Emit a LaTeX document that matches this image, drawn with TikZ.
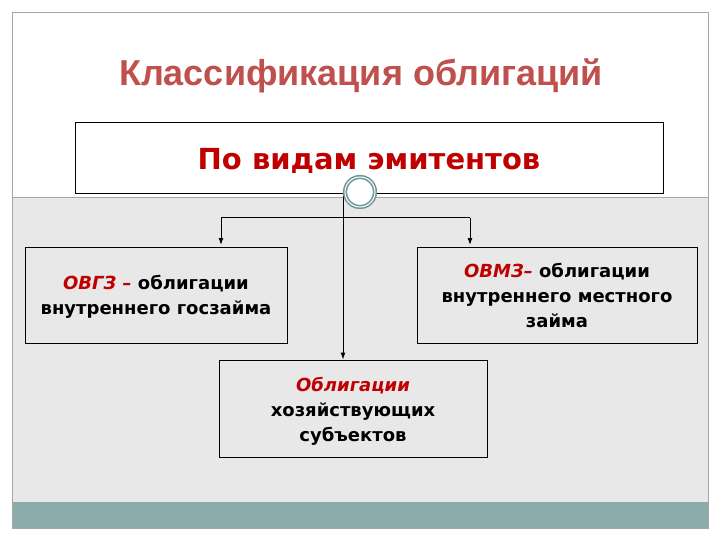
\documentclass[tikz,border=0pt]{standalone}
\usepackage{fontspec}
\setmainfont{DejaVu Sans}
\newfontfamily\titlefont{Liberation Sans}
\usetikzlibrary{arrows.meta}
\definecolor{titlered}{HTML}{C0504D}
\definecolor{darkred}{HTML}{C00000}
\definecolor{panelgray}{HTML}{E8E8E8}
\definecolor{bandteal}{HTML}{8CABAB}
\definecolor{ringteal}{HTML}{6E9A9A}
\tikzset{
  box/.style={draw=black, line width=0.8pt, fill=panelgray, align=center, inner sep=0pt},
  boxtext/.style={font=\fontsize{18}{25}\selectfont\bfseries, align=center},
  conn/.style={draw=black, line width=1pt},
  arr/.style={conn, -{Latex[length=7pt,width=5pt]}}
}
\newcommand{\rd}[1]{{\color{darkred}\itshape #1}}
\begin{document}
\begin{tikzpicture}[x=1pt,y=-1pt]
\useasboundingbox (0,0) rectangle (720,540);
\fill[white] (0,0) rectangle (720,540);
% slide frame
\fill[panelgray] (12,197) rectangle (708,502);
\fill[bandteal] (12,502) rectangle (708,528);
\draw[gray!70, line width=0.6pt] (12,12) rectangle (708,528);
\draw[gray!70, line width=0.6pt] (12,197) -- (708,197);
% title
\node[font=\titlefont\fontsize{36}{40}\selectfont\bfseries, text=titlered] (title) at (361,76) {Классификация облигаций};
% top box
\node[draw=black, line width=0.8pt, fill=white, minimum width=588pt, minimum height=71pt, inner sep=0pt] (top) at (369,157.5) {};
\node[font=\fontsize{29}{32}\selectfont\bfseries, text=darkred] (toptext) at (369,161) {По видам эмитентов};
% boxes
\node[box, minimum width=262pt, minimum height=96pt] (left) at (156,295) {};
\node[boxtext] (lefttext) at (156,297) {\rd{ОВГЗ –} облигации\\внутреннего госзайма};
\node[box, minimum width=280pt, minimum height=96pt] (right) at (557,295) {};
\node[boxtext] (righttext) at (557,295) {\rd{ОВМЗ–} облигации\\внутреннего местного\\займа};
\node[box, minimum width=268pt, minimum height=97pt] (bottom) at (353,408.5) {};
\node[boxtext] (bottomtext) at (353,411) {\rd{Облигации}\\хозяйствующих\\субъектов};
% connectors
\coordinate (fork) at (343,218);
\coordinate (lk) at (221,218);
\coordinate (rk) at (470,218);
\draw[conn] (343,193) -- (fork);
\draw[conn] (lk) -- (rk);
\draw[arr] (lk) -- (221,245);
\draw[arr] (rk) -- (470,245);
\draw[arr] (fork) -- (bottom.north -| fork);
% ring
\node[circle, draw=ringteal, fill=white, line width=1.6pt, minimum size=30pt, inner sep=0pt, double=white, double distance=1pt] (ring) at (360,192) {};
\end{tikzpicture}
\end{document}
